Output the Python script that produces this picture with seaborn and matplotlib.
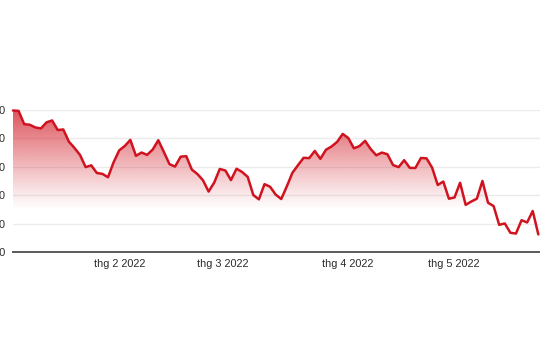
import numpy as np
import pandas as pd
import matplotlib
matplotlib.use("Agg")
import matplotlib.pyplot as plt
import seaborn as sns
from matplotlib.colors import to_rgb

# Daily closes, 3 Jan 2022 - 18 May 2022 (trading days)
values = [4796.56, 4793.54, 4700.58, 4696.05, 4677.03, 4670.29, 4713.07, 4726.35, 4659.03, 4662.85,
          4577.11, 4532.76, 4482.73, 4397.94, 4410.13, 4356.45, 4349.93, 4326.51, 4431.85, 4515.55,
          4546.54, 4589.38, 4477.44, 4500.53, 4483.87, 4521.54, 4587.18, 4504.08, 4418.64, 4401.67,
          4471.07, 4475.01, 4380.26, 4348.87, 4304.76, 4225.50, 4288.70, 4384.65, 4373.94,
          4306.26, 4386.54, 4363.49, 4328.87, 4201.09, 4170.70, 4277.88, 4259.52, 4204.31, 4173.11,
          4262.45, 4357.86, 4411.67, 4463.12, 4461.18, 4511.61, 4456.24, 4520.16, 4543.06, 4575.52,
          4631.60, 4602.45, 4530.41,
          4545.86, 4582.64, 4525.12, 4481.15, 4500.21, 4488.28, 4412.53, 4397.45, 4446.59, 4392.59,
          4391.69, 4462.21, 4459.45, 4393.66, 4271.78, 4296.12, 4175.20, 4183.96, 4287.50, 4131.93,
          4155.38, 4175.48, 4300.17, 4146.87, 4123.34, 3991.24, 4001.05, 3935.18, 3930.08, 4023.89,
          4008.01, 4088.85, 3923.68]
day_index = list(range(len(values)))

month_tick_pos = [19.14, 37.5, 59.8, 78.9]
month_tick_labels = ["thg 2 2022", "thg 3 2022", "thg 4 2022", "thg 5 2022"]

y_ticks = [3800, 4000, 4200, 4400, 4600, 4800]
y_tick_labels = ["3.800", "4.000", "4.200", "4.400", "4.600", "4.800"]

line_color = "#d0131f"

sns.set_theme(style="white")
plt.rcParams["font.family"] = ["Liberation Sans", "DejaVu Sans"]

df = pd.DataFrame({"day": day_index, "close": values})

fig = plt.figure(figsize=(5.4, 3.6), dpi=100)
ax = fig.add_axes([13 / 540, 108 / 360, 1 - 13 / 540, 142 / 360])

x_max = 94.3
ax.set_xlim(0, x_max)
ax.set_ylim(y_ticks[0], y_ticks[-1])

# gridlines
ax.set_yticks(y_ticks)
ax.set_yticklabels(y_tick_labels)
ax.yaxis.grid(True, color="#ebebeb", linewidth=1.0)
ax.xaxis.grid(False)
ax.set_axisbelow(True)

# gradient fill under the line
poly = ax.fill_between(df["day"], df["close"], y_ticks[0], facecolor="none", edgecolor="none")
r, g, b = to_rgb(line_color)
n = 256
yy = np.linspace(y_ticks[0], y_ticks[-1], n)
alpha = np.clip((yy - 4095) / (4800 - 4095), 0, 1) ** 1.1 * 0.72
grad = np.zeros((n, 1, 4))
grad[:, 0, 0] = r
grad[:, 0, 1] = g
grad[:, 0, 2] = b
grad[:, 0, 3] = alpha
im = ax.imshow(grad, extent=[0, x_max, y_ticks[0], y_ticks[-1]], origin="lower",
               aspect="auto", zorder=1, interpolation="bilinear")
im.set_clip_path(poly.get_paths()[0], transform=ax.transData)

sns.lineplot(data=df, x="day", y="close", ax=ax, color=line_color, linewidth=1.8,
             zorder=3, clip_on=False)

ax.set_xticks(month_tick_pos)
ax.set_xticklabels(month_tick_labels)
ax.set_xlabel("")
ax.set_ylabel("")

for s in ["top", "right", "left"]:
    ax.spines[s].set_visible(False)
ax.spines["bottom"].set_color("#5a5a5a")
ax.spines["bottom"].set_linewidth(1.4)

ax.tick_params(axis="x", direction="out", length=3.5, width=1.0, color="#5a5a5a",
               pad=1.5, labelsize=7.8, labelcolor="#2a2a2a")
ax.tick_params(axis="y", length=0, pad=5, labelsize=7.8, labelcolor="#2a2a2a")

fig.savefig("out.png", dpi=100)
